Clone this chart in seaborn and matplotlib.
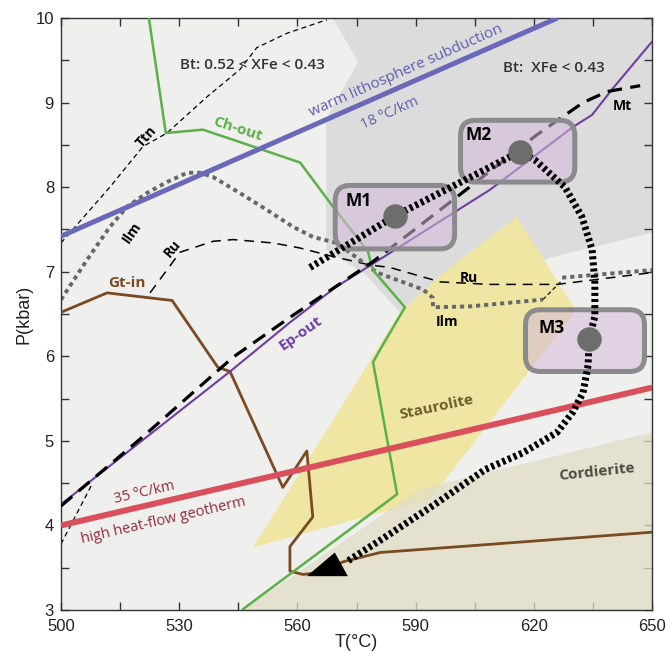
import matplotlib
matplotlib.use("Agg")
import matplotlib.pyplot as plt
from matplotlib.patches import FancyBboxPatch
from matplotlib.ticker import FixedLocator
import seaborn as sns

# ---------------- phase boundaries (T in °C, P in kbar) ----------------
ch_out_T = [522.3, 526.6, 536.0, 543.7, 560.7, 569.0, 577.9, 578.9, 579.7, 587.3, 581.0, 579.2, 585.3, 546.2]
ch_out_P = [10.0, 8.64, 8.68, 8.56, 8.29, 7.77, 7.24, 7.06, 6.99, 6.58, 6.08, 5.93, 4.37, 3.01]

gt_in_T = [500.0, 511.7, 528.2, 533.2, 539.8, 542.9, 556.3, 562.4, 563.9, 558.1, 558.1, 561.4, 565.0, 571.6, 581.0, 601.3, 650.0]
gt_in_P = [6.52, 6.75, 6.66, 6.32, 5.87, 5.82, 4.45, 4.88, 4.10, 3.75, 3.46, 3.42, 3.44, 3.57, 3.68, 3.75, 3.92]

ep_out_T = [500.0, 542.9, 558.1, 569.5, 608.9, 629.9, 634.8, 640.1, 650.0]
ep_out_P = [4.25, 5.82, 6.40, 6.81, 7.97, 8.71, 8.855, 9.17, 9.72]

mt_T = [500.0, 520.8, 543.7, 558.1, 579.2, 598.7, 620.8, 632.5, 638.6, 647.0]
mt_P = [4.23, 5.05, 5.99, 6.46, 7.12, 7.82, 8.62, 9.00, 9.13, 9.20]

low_dash_T = [500.0, 507.9]
low_dash_P = [3.78, 4.49]

ttn_T = [500.0, 512.4, 520.8, 526.9, 537.1, 545.4, 549.7, 557.4, 567.5]
ttn_P = [7.34, 8.00, 8.48, 8.64, 9.07, 9.39, 9.65, 9.82, 9.98]

ru_T = [522.6, 530.2, 538.6, 543.7, 553.8, 560.7, 569.0, 578.4, 583.5, 596.2, 608.9, 625.9, 650.0]
ru_P = [6.75, 7.23, 7.36, 7.38, 7.34, 7.28, 7.18, 7.08, 7.05, 6.88, 6.85, 6.85, 6.99]

ilm_T = [500.0, 506.6, 512.4, 516.8, 521.8, 526.9, 532.0, 535.3, 538.6, 545.4, 552.3, 558.9, 564.0,
         570.0, 580.2, 591.9, 594.4, 594.4, 603.8, 622.3]
ilm_P = [6.67, 7.14, 7.53, 7.77, 7.93, 8.06, 8.17, 8.17, 8.12, 7.93, 7.73, 7.53, 7.41,
         7.34, 6.99, 6.79, 6.69, 6.58, 6.59, 6.67]
ilm_hi_T = [627.2, 650.0]
ilm_hi_P = [6.93, 7.02]
ilm_link_T = [622.3, 627.0]
ilm_link_P = [6.67, 6.89]

# geotherms
warm_T = [500.0, 626.0]
warm_P = [7.42, 10.0]
hot_T = [500.0, 650.0]
hot_P = [4.00, 5.63]

# stability fields
bt_low_T = [569.0, 575.4, 567.3, 567.3, 577.2, 586.0, 624.6, 650.0, 650.0]
bt_low_P = [10.0, 9.48, 8.80, 7.26, 6.97, 6.52, 7.17, 7.46, 10.0]
st_T = [548.7, 568.3, 586.0, 598.7, 608.9, 615.7, 630.7, 593.7]
st_P = [3.74, 5.19, 6.52, 7.05, 7.41, 7.65, 6.54, 4.31]
crd_T = [546.2, 591.1, 650.0, 650.0]
crd_P = [3.00, 4.43, 5.10, 3.00]

# metamorphic stages and P-T path
stage_names = ["M1", "M2", "M3"]
stage_T = [584.8, 616.5, 634.0]
stage_P = [7.66, 8.42, 6.20]
stage_Tmin = [569.6, 601.4, 617.9]
stage_Tmax = [599.9, 630.4, 648.1]
stage_Pmin = [7.27, 8.06, 5.82]
stage_Pmax = [8.02, 8.79, 6.55]

path_T = [563.2, 584.8, 616.5, 620.3, 627.9, 632.2, 634.8, 635.5, 635.5, 634.0,
          633.8, 632.5, 629.9, 625.9, 617.3, 607.6, 594.9, 582.2, 572.8]
path_P = [7.05, 7.66, 8.42, 8.32, 8.00, 7.65, 7.26, 6.87, 6.47, 6.20,
          5.90, 5.57, 5.34, 5.10, 4.86, 4.66, 4.25, 3.86, 3.58]
head_T = [562.4, 572.8, 569.5]
head_P = [3.40, 3.40, 3.68]

x_major = [500, 530, 560, 590, 620, 650]
x_minor = [515, 545, 575, 605, 635]
y_major = [3, 4, 5, 6, 7, 8, 9, 10]
y_minor = [3.5, 4.5, 5.5, 6.5, 7.5, 8.5, 9.5]

# ---------------- style ----------------
sns.set_theme(style="ticks")
plt.rcParams.update({
    "font.family": ["Liberation Sans", "DejaVu Sans"],
    "lines.scale_dashes": False,
    "axes.edgecolor": "#333333",
    "axes.linewidth": 1.0,
})

fig = plt.figure(figsize=(6.70, 6.51), dpi=100)
ax = fig.add_axes([61 / 670, 1 - 610 / 651, 591 / 670, 592 / 651])
ax.set_facecolor("#efefed")
ax.set_xlim(500, 650)
ax.set_ylim(3, 10)

# fields
ax.fill(bt_low_T, bt_low_P, color="#dcdcdc", lw=0, zorder=0.5)
ax.fill(st_T, st_P, color="#efe6a3", lw=0, zorder=0.7)
ax.fill(crd_T, crd_P, color="#e1ddc6", alpha=0.75, lw=0, zorder=0.8)


def trace(T, P, **kw):
    sns.lineplot(x=T, y=P, sort=False, estimator=None, ax=ax, legend=False, **kw)


# reaction curves
trace(ttn_T, ttn_P, color="black", linewidth=0.9, linestyle=(0, (3.6, 2.6)), zorder=2)
trace(low_dash_T, low_dash_P, color="black", linewidth=0.9, linestyle=(0, (3.6, 2.6)), zorder=2)
trace(ru_T, ru_P, color="black", linewidth=1.1, linestyle=(0, (7.0, 5.0)), zorder=2)
trace(ilm_T, ilm_P, color="#676767", linewidth=2.8, linestyle=(0, (3.0, 2.8)), zorder=2)
trace(ilm_hi_T, ilm_hi_P, color="#676767", linewidth=2.8, linestyle=(0, (3.0, 2.8)), zorder=2)
trace(ilm_link_T, ilm_link_P, color="#333333", linewidth=1.1, linestyle=(0, (3.0, 2.0)), zorder=2)
trace(gt_in_T, gt_in_P, color="#7a4a22", linewidth=2.0, zorder=3)
trace(ch_out_T, ch_out_P, color="#5bb048", linewidth=1.8, zorder=3)
trace(ep_out_T, ep_out_P, color="#6e3ea2", linewidth=1.5, zorder=3)
trace(mt_T, mt_P, color="black", linewidth=2.3, linestyle=(0, (10.5, 6.0)), zorder=3.2)

# geotherms
trace(warm_T, warm_P, color="#6a69b9", linewidth=3.6, solid_capstyle="butt", zorder=4)
trace(hot_T, hot_P, color="#d9505c", linewidth=4.3, solid_capstyle="butt", zorder=4)

# stage boxes
ASPECT = 3.94 / 84.7
for t0, t1, p0, p1 in zip(stage_Tmin, stage_Tmax, stage_Pmin, stage_Pmax):
    ax.add_patch(FancyBboxPatch((t0, p0), t1 - t0, p1 - p0,
                                boxstyle="round,pad=0,rounding_size=3.8",
                                mutation_aspect=ASPECT,
                                fc=(0.83, 0.73, 0.86, 0.55), ec="#8b8b8e", lw=3.6, zorder=6))

# P-T path
trace(path_T, path_P, color="black", linewidth=5.0, linestyle=(0, (2.2, 2.2)), zorder=8)
ax.fill(head_T, head_P, color="black", lw=0, zorder=9)
sns.scatterplot(x=stage_T, y=stage_P, s=310, color="#6d6d6d", linewidth=0, zorder=9, ax=ax, legend=False)

# labels
LF = ["Open Sans", "DejaVu Sans"]


def label(s, T, P, rot=0, color="black", size=11, weight="semibold"):
    ax.text(T, P, s, rotation=rot, rotation_mode="anchor", ha="center", va="center",
            color=color, fontsize=size, fontweight=weight, family=LF, zorder=10)


label("Bt: 0.52 < XFe < 0.43", 548.5, 9.45, color="#333333", size=11)
label("Bt:  XFe < 0.43", 625.1, 9.41, color="#333333", size=11)
label("warm lithosphere subduction", 587.5, 9.38, rot=23.8, color="#5e5eb0", size=11, weight="normal")
label("18 ºC/km", 583.5, 8.87, rot=23.8, color="#5e5eb0", size=10.5, weight="normal")
label("Ch-out", 544.7, 8.69, rot=-18, color="#5bb048", size=11, weight="bold")
label("Ttn", 521.8, 8.60, rot=48, size=10, weight="bold")
label("Ilm", 518.0, 7.46, rot=55, size=10, weight="bold")
label("Ru", 528.2, 7.27, rot=50, size=10, weight="bold")
label("Gt-in", 516.8, 6.87, color="#7a4a22", size=11, weight="bold")
label("Ep-out", 560.9, 6.27, rot=35, color="#6e3ea2", size=11, weight="bold")
label("35 ºC/km", 521.1, 4.39, rot=13, color="#8e2d3e", size=10.5, weight="normal")
label("high heat-flow geotherm", 526.1, 4.06, rot=13, color="#8e2d3e", size=10.5, weight="normal")
label("Staurolite", 595.2, 5.40, rot=12, color="#6b5c2c", size=11, weight="bold")
label("Cordierite", 636.0, 4.63, rot=6, color="#4f4a42", size=11, weight="bold")
label("Ru", 603.6, 6.93, size=10, weight="bold")
label("Ilm", 598.0, 6.41, size=10, weight="bold")
label("Mt", 642.4, 8.96, size=10, weight="bold")
for name, T, P in zip(stage_names, [575.6, 606.1, 624.4], [7.84, 8.62, 6.33]):
    label(name, T, P, size=12.5, weight="bold")

# axes
ax.xaxis.set_major_locator(FixedLocator(x_major))
ax.xaxis.set_minor_locator(FixedLocator(x_minor))
ax.yaxis.set_major_locator(FixedLocator(y_major))
ax.yaxis.set_minor_locator(FixedLocator(y_minor))
ax.tick_params(which="both", direction="in", length=6, width=1.0, top=True, right=True,
               color="#333333", labelcolor="#222222", labelsize=12)
ax.tick_params(axis="x", which="both", pad=6.5)
ax.tick_params(axis="y", which="both", pad=5)
ax.set_xlabel("T(°C)", fontsize=13, labelpad=0, color="#222222")
ax.set_ylabel("P(kbar)", fontsize=13, labelpad=2, color="#222222")

fig.savefig("out.png", dpi=100, facecolor="white")
